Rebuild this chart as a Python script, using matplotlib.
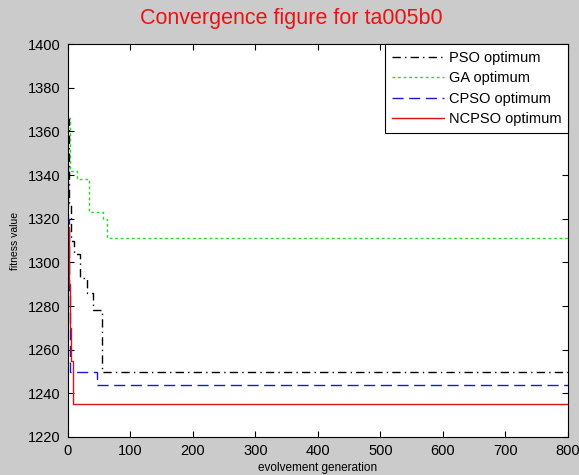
import numpy as np
import matplotlib.pyplot as plt

plt.rcParams['font.family'] = ['Liberation Sans', 'DejaVu Sans']

# generation at which each best value starts (step data)
pso_gen = [0, 2, 5, 10, 19, 30, 40, 55, 800]
pso_fit = [1366, 1327, 1310, 1304, 1293, 1286, 1278, 1250, 1250]

ga_gen = [0, 3, 15, 34, 56, 63, 800]
ga_fit = [1366, 1342, 1338, 1323, 1320, 1311, 1311]

cpso_gen = [0, 1, 2, 4, 46, 800]
cpso_fit = [1345, 1320, 1285, 1250, 1244, 1244]

ncpso_gen = [0, 2, 4, 6, 8, 800]
ncpso_fit = [1316, 1290, 1270, 1255, 1235, 1235]

fig = plt.figure(figsize=(5.79, 4.75), dpi=100, facecolor='#cbcbcb')
ax = fig.add_axes([0.117, 0.08, 0.864, 0.827])

ax.plot(pso_gen, pso_fit, drawstyle='steps-post', color='black', linestyle=(0, (6, 3, 1, 3)), lw=1, label='PSO optimum')
ax.plot(ga_gen, ga_fit, drawstyle='steps-post', color='#22dd22', linestyle=(0, (2, 2)), lw=1, label='GA optimum')
ax.plot(cpso_gen, cpso_fit, drawstyle='steps-post', color='#1a1acc', linestyle=(0, (8, 4)), lw=1, label='CPSO optimum')
ax.plot(ncpso_gen, ncpso_fit, drawstyle='steps-post', color='#dd1111', linestyle='-', lw=1, label='NCPSO optimum')

ax.set_xlim(0, 800)
ax.set_ylim(1220, 1400)
ax.set_xticks(np.arange(0, 801, 100))
ax.set_yticks(np.arange(1220, 1401, 20))
ax.tick_params(direction='in', top=True, right=True, labelsize=10.5, length=4, pad=5)
for s in ax.spines.values():
    s.set_linewidth(0.8)

fig.text(0.503, 0.962, 'Convergence figure for ta005b0', color='#ee1111', fontsize=15.5,
         ha='center', va='center')
ax.set_xlabel('evolvement generation', fontsize=8.5, labelpad=3)
ax.set_ylabel('fitness value', fontsize=7.5, labelpad=6)

leg = ax.legend(loc='upper right', fontsize=10.5, fancybox=False, framealpha=1,
                edgecolor='black', borderaxespad=0.0, handlelength=3.6,
                labelspacing=0.45, borderpad=0.45, handletextpad=0.3)
leg.get_frame().set_linewidth(0.8)

fig.savefig('out.png', dpi=100, facecolor=fig.get_facecolor())
